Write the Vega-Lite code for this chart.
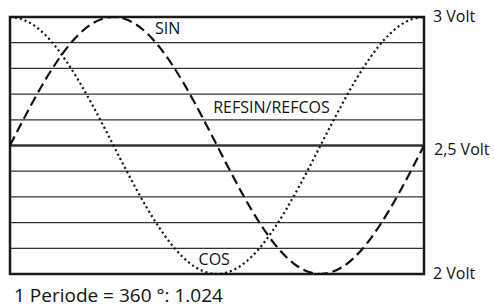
{
  "$schema": "https://vega.github.io/schema/vega-lite/v6.json",
  "width": 414,
  "height": 257,
  "autosize": {"type": "none"},
  "padding": {"left": 10, "top": 17, "right": 70, "bottom": 33},
  "background": "white",
  "config": {
    "view": {"stroke": "#1a1a1a", "strokeWidth": 2.5},
    "font": "Open Sans"
  },
  "datasets": {
    "grid": [
      {"v": 2.1}, {"v": 2.2}, {"v": 2.3}, {"v": 2.4}, {"v": 2.5},
      {"v": 2.6}, {"v": 2.7}, {"v": 2.8}, {"v": 2.9}
    ],
    "curves": [
      {"deg": 0, "sin": 2.5, "cos": 3.0},
      {"deg": 10, "sin": 2.587, "cos": 2.992},
      {"deg": 20, "sin": 2.671, "cos": 2.970},
      {"deg": 30, "sin": 2.75, "cos": 2.933},
      {"deg": 40, "sin": 2.821, "cos": 2.883},
      {"deg": 50, "sin": 2.883, "cos": 2.821},
      {"deg": 60, "sin": 2.933, "cos": 2.75},
      {"deg": 70, "sin": 2.970, "cos": 2.671},
      {"deg": 80, "sin": 2.992, "cos": 2.587},
      {"deg": 90, "sin": 3.0, "cos": 2.5},
      {"deg": 100, "sin": 2.992, "cos": 2.413},
      {"deg": 110, "sin": 2.970, "cos": 2.329},
      {"deg": 120, "sin": 2.933, "cos": 2.25},
      {"deg": 130, "sin": 2.883, "cos": 2.179},
      {"deg": 140, "sin": 2.821, "cos": 2.117},
      {"deg": 150, "sin": 2.75, "cos": 2.067},
      {"deg": 160, "sin": 2.671, "cos": 2.030},
      {"deg": 170, "sin": 2.587, "cos": 2.008},
      {"deg": 180, "sin": 2.5, "cos": 2.0},
      {"deg": 190, "sin": 2.413, "cos": 2.008},
      {"deg": 200, "sin": 2.329, "cos": 2.030},
      {"deg": 210, "sin": 2.25, "cos": 2.067},
      {"deg": 220, "sin": 2.179, "cos": 2.117},
      {"deg": 230, "sin": 2.117, "cos": 2.179},
      {"deg": 240, "sin": 2.067, "cos": 2.25},
      {"deg": 250, "sin": 2.030, "cos": 2.329},
      {"deg": 260, "sin": 2.008, "cos": 2.413},
      {"deg": 270, "sin": 2.0, "cos": 2.5},
      {"deg": 280, "sin": 2.008, "cos": 2.587},
      {"deg": 290, "sin": 2.030, "cos": 2.671},
      {"deg": 300, "sin": 2.067, "cos": 2.75},
      {"deg": 310, "sin": 2.117, "cos": 2.821},
      {"deg": 320, "sin": 2.179, "cos": 2.883},
      {"deg": 330, "sin": 2.25, "cos": 2.933},
      {"deg": 340, "sin": 2.329, "cos": 2.970},
      {"deg": 350, "sin": 2.413, "cos": 2.992},
      {"deg": 360, "sin": 2.5, "cos": 3.0}
    ],
    "labels": [
      {"label": "SIN", "deg": 126, "v": 2.953},
      {"label": "COS", "deg": 164, "v": 2.056}
    ],
    "ref": [
      {"label": "REFSIN/REFCOS", "deg": 278, "v": 2.644}
    ],
    "volts": [
      {"label": "3 Volt", "v": 3.0},
      {"label": "2,5 Volt", "v": 2.5},
      {"label": "2 Volt", "v": 2.0}
    ],
    "note": [
      {"label": "1 Periode = 360 °: 1.024"}
    ]
  },
  "layer": [
    {
      "data": {"name": "grid"},
      "mark": {"type": "rule", "color": "#333333"},
      "encoding": {
        "y": {"field": "v", "type": "quantitative", "scale": {"domain": [2, 3], "nice": false, "zero": false}, "axis": null},
        "strokeWidth": {"condition": {"test": "datum.v == 2.5", "value": 2.5}, "value": 1.3}
      }
    },
    {
      "data": {"name": "curves"},
      "mark": {"type": "line", "color": "#111111", "strokeWidth": 2.2, "strokeDash": [10, 5], "interpolate": "monotone"},
      "encoding": {
        "x": {"field": "deg", "type": "quantitative", "scale": {"domain": [0, 360], "nice": false, "zero": false}, "axis": null},
        "y": {"field": "sin", "type": "quantitative", "axis": null}
      }
    },
    {
      "data": {"name": "curves"},
      "mark": {"type": "line", "color": "#111111", "strokeWidth": 2.2, "strokeDash": [2, 3], "interpolate": "monotone"},
      "encoding": {
        "x": {"field": "deg", "type": "quantitative"},
        "y": {"field": "cos", "type": "quantitative"}
      }
    },
    {
      "data": {"name": "labels"},
      "mark": {"type": "text", "align": "left", "baseline": "middle", "fontSize": 16, "color": "#111111"},
      "encoding": {
        "x": {"field": "deg", "type": "quantitative"},
        "y": {"field": "v", "type": "quantitative"},
        "text": {"field": "label"}
      }
    },
    {
      "data": {"name": "ref"},
      "mark": {"type": "text", "align": "right", "baseline": "middle", "fontSize": 16, "color": "#111111"},
      "encoding": {
        "x": {"field": "deg", "type": "quantitative"},
        "y": {"field": "v", "type": "quantitative"},
        "text": {"field": "label"}
      }
    },
    {
      "data": {"name": "volts"},
      "transform": [{"filter": "datum.v != 2.5"}],
      "mark": {"type": "text", "align": "left", "baseline": "middle", "fontSize": 16, "dx": 9, "dy": 0, "color": "#111111"},
      "encoding": {
        "x": {"datum": 360, "type": "quantitative"},
        "y": {"field": "v", "type": "quantitative"},
        "text": {"field": "label"}
      }
    },
    {
      "data": {"name": "volts"},
      "transform": [{"filter": "datum.v == 2.5"}],
      "mark": {"type": "text", "align": "left", "baseline": "middle", "fontSize": 16, "dx": 10, "dy": 4, "color": "#111111"},
      "encoding": {
        "x": {"datum": 360, "type": "quantitative"},
        "y": {"field": "v", "type": "quantitative"},
        "text": {"field": "label"}
      }
    },
    {
      "data": {"name": "note"},
      "mark": {"type": "text", "align": "left", "baseline": "bottom", "fontSize": 19, "dx": 4, "dy": 32, "color": "#111111"},
      "encoding": {
        "x": {"datum": 0, "type": "quantitative"},
        "y": {"datum": 2, "type": "quantitative"},
        "text": {"field": "label"}
      }
    }
  ]
}
